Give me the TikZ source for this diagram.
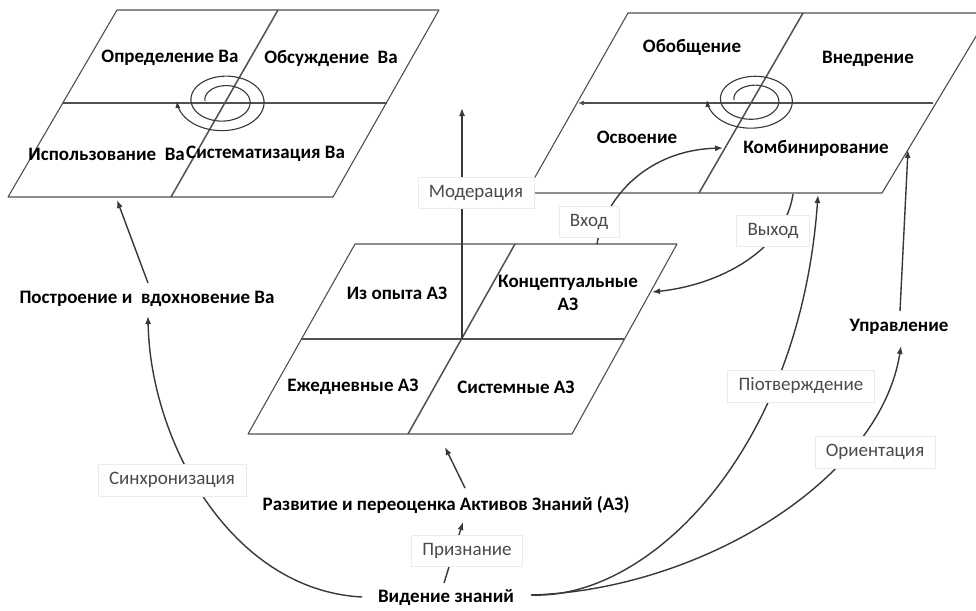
\documentclass[tikz,border=0pt]{standalone}
\usepackage{fontspec}
\setmainfont{Carlito}
\usetikzlibrary{arrows.meta}
\pgfdeclarelayer{bg}
\pgfsetlayers{bg,main}
\definecolor{lin}{HTML}{505050}
\definecolor{con}{HTML}{383838}
\definecolor{lab}{HTML}{4A4A4A}
\begin{document}
\begin{tikzpicture}[x=1pt,y=-1pt,
  frame/.style={draw=lin, line width=1.1pt, line join=round},
  divl/.style={draw=lin, line width=1.5pt},
  cell/.style={font=\fontsize{19}{23}\selectfont\bfseries, text=black, inner sep=0pt, align=center},
  tag/.style={font=\fontsize{19}{22}\selectfont, text=lab, fill=white, draw=black!8, line width=0.4pt, inner xsep=11pt, inner ysep=8pt},
  head/.style={font=\fontsize{19}{22}\selectfont\bfseries, text=black, inner sep=2pt},
  conn/.style={draw=con, line width=1.4pt, -{Latex[length=8pt,width=6pt]}},
  spir/.style={draw=con, line width=1.1pt, -{Latex[length=7pt,width=5pt]}},
]
\clip (0,0) rectangle (976,610);

% ---------- labels (main layer) ----------
\node[cell] (opr) at (170,58) {Определение Ва};
\node[cell] (obs) at (331,58) {Обсуждение\ \ Ва};
\node[cell, anchor=east] (isp) at (185,154) {Использование\ \ Ва};
\node[cell, anchor=west] (sis) at (186,154) {Систематизация Ва};

\node[cell] (obob) at (692,47) {Обобщение};
\node[cell] (vned) at (868,59) {Внедрение};
\node[cell] (osv) at (637,137) {Освоение};
\node[cell] (komb) at (816,148) {Комбинирование};

\node[cell] (opyt) at (397,293) {Из опыта АЗ};
\node[cell] (konc) at (568,293) {Концептуальные\\АЗ};
\node[cell] (ezhe) at (353,387) {Ежедневные АЗ};
\node[cell] (sist) at (516,387) {Системные АЗ};

\node[head] (vid) at (446,598) {Видение знаний};
\node[head] (razv) at (446,505) {Развитие и переоценка Активов Знаний (АЗ)};
\node[head] (post) at (147,299) {Построение и\ \ вдохновение Ва};
\node[head] (upr) at (899,327) {Управление};

\node[tag] (priz) at (467,551) {Признание};
\node[tag] (sinh) at (172,480) {Синхронизация};
\node[tag] (mod) at (476,193) {Модерация};
\node[tag] (vhod) at (589,222) {Вход};
\node[tag] (vyh) at (773,231) {Выход};
\node[tag] (piot) at (801,386) {Піотверждение};
\node[tag] (orie) at (875,452) {Ориентация};

\begin{pgfonlayer}{bg}
\fill[white] (0,0) rectangle (976,610);
% ---------- parallelogram A (top left) ----------
\draw[frame] (117,10) -- (439,10) -- (333,197) -- (8,197) -- cycle;
\draw[frame] (63,103) -- (387,103);
\draw[divl] (278,10) -- (171,197);
\draw[spir] plot[domain=0:720, samples=160, smooth, variable=\t]
  ({224 - (19+0.0389*\t)*cos(\t)}, {101 - 0.68*(19+0.0389*\t)*sin(\t)});

% ---------- parallelogram B (top right) ----------
\draw[frame] (628,13) -- (990,13) -- (882,193) -- (526,193) -- cycle;
\draw[frame, -{Latex[length=6pt,width=5pt]}] (933,103) -- (578,103);
\draw[divl] (803,13) -- (699,193);
\draw[spir] plot[domain=0:720, samples=160, smooth, variable=\t]
  ({753 - (19+0.0375*\t)*cos(\t)}, {100 - 0.66*(19+0.0375*\t)*sin(\t)});

% ---------- parallelogram C (middle) ----------
\draw[frame] (355,244) -- (677,244) -- (572,434) -- (248,434) -- cycle;
\draw[frame] (301,339) -- (624,339);
\draw[divl] (515,244) -- (408,434);

% ---------- connector end points ----------
\coordinate (vidL) at (362,597);
\coordinate (vidR) at (531,595);
\coordinate (vidT) at (444,583);
\coordinate (razvT) at (463,522);
\coordinate (razvS) at (465,488);
\coordinate (cBot) at (445,447);
\coordinate (cCen) at (462,339);
\coordinate (modT) at (462,108);
\coordinate (cTop) at (597,244);
\coordinate (kombL) at (723,148);
\coordinate (bBot) at (793,194);
\coordinate (cRight) at (652,292);
\coordinate (bBot2) at (818,195);
\coordinate (uprB) at (901,346);
\coordinate (uprT) at (900,311);
\coordinate (bRight) at (908,150);
\coordinate (postT) at (148,283);
\coordinate (aBot) at (117,200);
\coordinate (postB) at (148,316);

% ---------- connectors ----------
\draw[conn] (postT) -- (aBot);
\draw[conn] (vidL) .. controls (230,590) and (150,440) .. (postB);
\draw[conn] (vidT) -- (razvT);
\draw[conn] (razvS) -- (cBot);
\draw[conn] (cCen) -- (modT);
\draw[conn] (cTop) .. controls (605,195) and (650,150) .. (kombL);
\draw[conn] (bBot) .. controls (785,250) and (720,285) .. (cRight);
\draw[conn] (vidR) .. controls (650,600) and (800,450) .. (bBot2);
\draw[conn] (vidR) .. controls (700,590) and (880,480) .. (uprB);
\draw[conn] (uprT) -- (bRight);
\end{pgfonlayer}
\end{tikzpicture}
\end{document}
